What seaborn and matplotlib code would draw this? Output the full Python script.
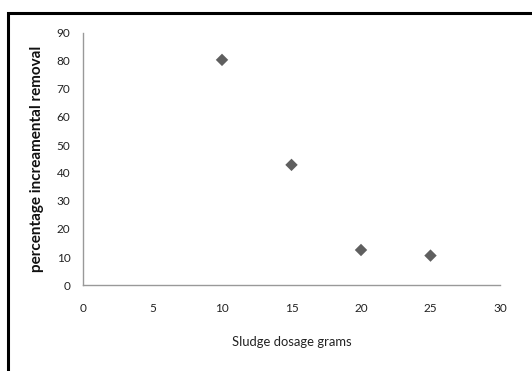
import matplotlib
matplotlib.use("Agg")
import matplotlib.pyplot as plt
import seaborn as sns
import pandas as pd
from matplotlib.patches import Rectangle

dosage = [10, 15, 20, 25]
removal = [80.4, 42.9, 12.5, 10.5]
xticks = [0, 5, 10, 15, 20, 25, 30]
yticks = [0, 10, 20, 30, 40, 50, 60, 70, 80, 90]

sns.set_style("white")
plt.rcParams['font.family'] = ['Lato', 'DejaVu Sans']

df = pd.DataFrame({"dosage": dosage, "removal": removal})

fig = plt.figure(figsize=(5.32, 3.71), dpi=100)
ax = fig.add_axes([83/532, 1-285/371, (500-83)/532, (285-33)/371])

sns.scatterplot(data=df, x="dosage", y="removal", ax=ax, marker="D", s=40,
                color="#5f5f5f", edgecolor="none", zorder=3)

ax.set_xlim(0, 30)
ax.set_ylim(0, 90)
ax.set_xticks(xticks)
ax.set_yticks(yticks)
ax.tick_params(axis="both", direction="out", length=4, width=0.8, color="#888888",
               labelsize=8.5, labelcolor="#222222")
ax.tick_params(axis="x", pad=9)
ax.tick_params(axis="y", pad=5)
for s in ["top", "right"]:
    ax.spines[s].set_visible(False)
for s in ["left", "bottom"]:
    ax.spines[s].set_color("#999999")
    ax.spines[s].set_linewidth(1.0)

ax.set_xlabel("Sludge dosage grams", fontsize=9.4, color="#222222", labelpad=16)
ax.set_ylabel("percentage increamental removal", fontsize=11, fontweight="bold",
              color="#111111", labelpad=9)

border = Rectangle((8/532, -0.05), 1.1, 1 - 13/371 + 0.05, transform=fig.transFigure,
                   fill=False, edgecolor="black", linewidth=2.2, zorder=10)
fig.patches.append(border)

fig.savefig("out.png", dpi=100)
